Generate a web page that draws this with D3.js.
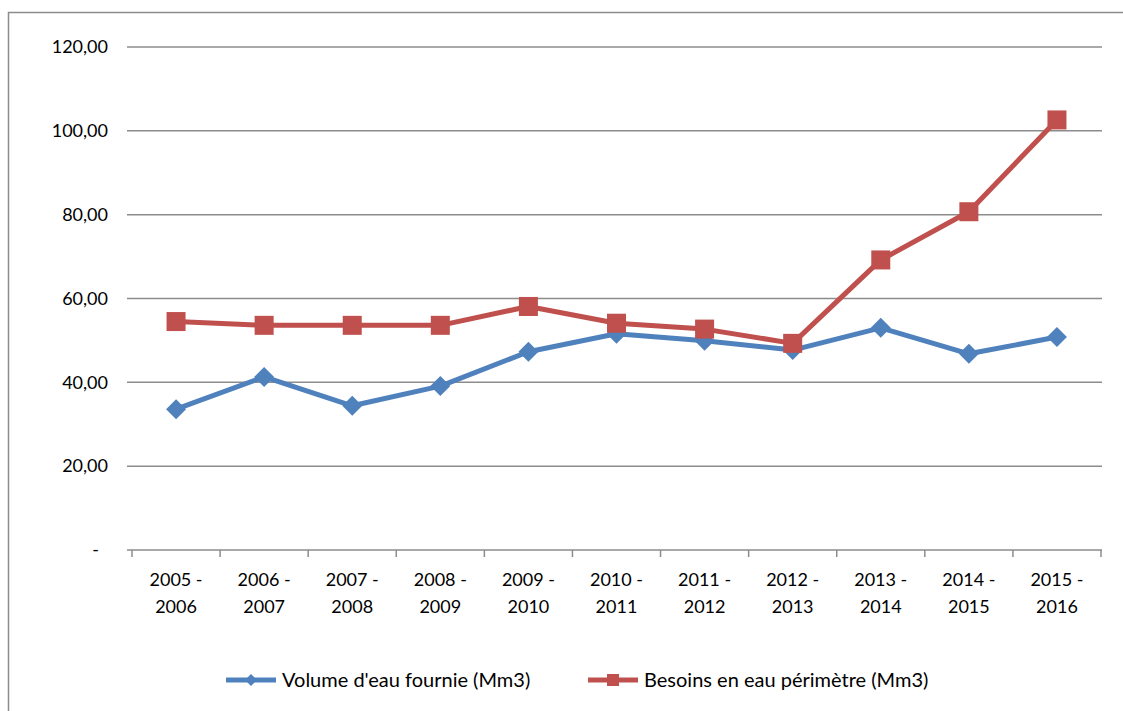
<!DOCTYPE html>
<html><head><meta charset="utf-8">
<script src="https://cdn.jsdelivr.net/npm/d3@7"></script>
<style>body{margin:0;background:#fff}svg{display:block}text{font-family:Lato,"Open Sans",sans-serif;fill:#000}</style>
</head><body>
<svg id="c" width="1123" height="711"></svg>
<script>
const categories = [["2005 -","2006"],["2006 -","2007"],["2007 -","2008"],["2008 -","2009"],["2009 -","2010"],["2010 -","2011"],["2011 -","2012"],["2012 -","2013"],["2013 -","2014"],["2014 -","2015"],["2015 -","2016"]];
const volumeFournie = [33.6, 41.3, 34.4, 39.1, 47.3, 51.6, 49.9, 47.7, 53.0, 46.8, 50.8];
const besoins = [54.5, 53.6, 53.6, 53.6, 58.1, 54.1, 52.7, 49.3, 69.2, 80.7, 102.6];
const yTicks = [0, 20, 40, 60, 80, 100, 120];
const seriesNames = ["Volume d'eau fournie (Mm3)", "Besoins en eau périmètre (Mm3)"];
const colors = ["#4F81BD", "#C0504D"];

const svg = d3.select("#c");
// outer frame (cropped)
svg.append("path").attr("d","M8.5,711 V12.5 H1123").attr("fill","none").attr("stroke","#8c8c8c").attr("stroke-width",1.5);

const x = d3.scaleBand().domain(d3.range(categories.length)).range([132,1101]);
const y = d3.scaleLinear().domain([0,120]).range([550,47]);
const gx0 = 127, gx1 = 1102;

// gridlines
svg.append("g").selectAll("line").data(yTicks).join("line")
  .attr("x1",gx0).attr("x2",gx1).attr("y1",d=>y(d)).attr("y2",d=>y(d))
  .attr("stroke","#8c8c8c").attr("stroke-width",1.5);

// y labels
svg.append("g").selectAll("text").data(yTicks).join("text")
  .attr("x",d=>d===0?99:108).attr("y",d=>y(d)).attr("dy","0.35em")
  .attr("text-anchor","end").attr("font-size",18)
  .text(d=>d===0?"-":d3.format(".2f")(d).replace(".",","));

// x ticks
const xt = d3.range(categories.length+1).map(i=> i<categories.length? x(i): x.range()[1]);
svg.append("g").selectAll("line").data(xt).join("line")
  .attr("x1",d=>d).attr("x2",d=>d).attr("y1",550).attr("y2",557)
  .attr("stroke","#8c8c8c").attr("stroke-width",1.5);

// x labels
const xl = svg.append("g").selectAll("text").data(categories).join("text")
  .attr("text-anchor","middle").attr("font-size",18)
  .attr("x",(d,i)=>x(i)+x.bandwidth()/2);
xl.append("tspan").attr("x",(d,i)=>x(i)+x.bandwidth()/2).attr("y",586).text(d=>d[0]);
xl.append("tspan").attr("x",(d,i)=>x(i)+x.bandwidth()/2).attr("y",613).text(d=>d[1]);

const line = d3.line().x((d,i)=>x(i)+x.bandwidth()/2).y(d=>y(d));
const diamond = s => `M0,${-s}L${s},0L0,${s}L${-s},0Z`;

function drawSeries(vals, color, marker){
  svg.append("path").datum(vals).attr("d",line).attr("fill","none")
    .attr("stroke",color).attr("stroke-width",5).attr("stroke-linejoin","round");
  const g = svg.append("g").selectAll("g").data(vals).join("g")
    .attr("transform",(d,i)=>`translate(${x(i)+x.bandwidth()/2},${y(d)})`);
  if(marker==="diamond") g.append("path").attr("d",diamond(10)).attr("fill",color);
  else g.append("rect").attr("x",-9.5).attr("y",-9.5).attr("width",19).attr("height",19).attr("fill",color);
}
drawSeries(volumeFournie, colors[0], "diamond");
drawSeries(besoins, colors[1], "square");

// legend
const leg = [{x:226, name:seriesNames[0], c:colors[0], m:"diamond"},{x:588, name:seriesNames[1], c:colors[1], m:"square"}];
leg.forEach(l=>{
  const ly = 680;
  svg.append("line").attr("x1",l.x).attr("x2",l.x+50).attr("y1",ly).attr("y2",ly).attr("stroke",l.c).attr("stroke-width",5);
  if(l.m==="diamond") svg.append("path").attr("transform",`translate(${l.x+25},${ly})`).attr("d",diamond(6)).attr("fill",l.c);
  else svg.append("rect").attr("x",l.x+19).attr("y",ly-6).attr("width",12).attr("height",12).attr("fill",l.c);
  svg.append("text").attr("x",l.x+56).attr("y",ly).attr("dy","0.35em").attr("font-size",20).text(l.name);
});
</script>
</body></html>
